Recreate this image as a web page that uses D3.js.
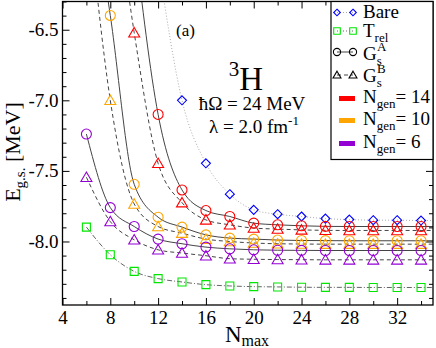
<!DOCTYPE html>
<html>
<head>
<meta charset="utf-8">
<script src="https://cdn.jsdelivr.net/npm/d3@7"></script>
<style>
  body { margin: 0; background: #fff; }
  svg text { font-family: "Liberation Serif", "DejaVu Serif", "Times New Roman", Times, serif; fill: #000; }
</style>
</head>
<body>
<div id="chart"></div>
<script>
// 3H ground state energy vs Nmax, panel (a)
const nmax = [6, 8, 10, 12, 14, 16, 18, 20, 22, 24, 26, 28, 30, 32, 34];

// values (points above the frame are estimated from where the lines leave it)
const bare = [null, null, null, -6.02, -7.00, -7.446, -7.665, -7.776, -7.807, -7.823, -7.838, -7.845, -7.849, -7.849, -7.852];
const trel = [-7.898, -8.094, -8.212, -8.263, -8.287, -8.306, -8.315, -8.320, -8.322, -8.324, -8.325, -8.325, -8.326, -8.326, -8.326];
const gA14 = [null, null, -5.85, -7.10, -7.635, -7.781, -7.823, -7.870, -7.882, -7.889, -7.893, -7.894, -7.894, -7.894, -7.894];
const gB14 = [null, -5.27, -6.521, -7.446, -7.725, -7.847, -7.882, -7.905, -7.912, -7.918, -7.921, -7.922, -7.922, -7.922, -7.922];
const gA10 = [-5.30, -6.399, -7.595, -7.828, -7.898, -7.953, -7.976, -7.983, -7.990, -7.993, -7.994, -7.995, -7.995, -7.995, -7.995];
const gB10 = [-5.52, -7.00, -7.734, -7.894, -7.941, -7.983, -8.000, -8.011, -8.016, -8.018, -8.019, -8.019, -8.019, -8.019, -8.019];
const gA6 = [-7.239, -7.760, -7.894, -7.983, -8.016, -8.040, -8.052, -8.059, -8.062, -8.063, -8.064, -8.064, -8.064, -8.064, -8.064];
const gB6 = [-7.545, -7.859, -7.988, -8.059, -8.082, -8.101, -8.122, -8.126, -8.128, -8.129, -8.130, -8.130, -8.130, -8.130, -8.130];

const xTicks = [4, 8, 12, 16, 20, 24, 28, 32];
const yTicks = [-6.5, -7.0, -7.5, -8.0];

const WD = 436, HT = 348;
const box = { left: 62.5, right: 433, top: 1.5, bottom: 305 };
const serif = "'Liberation Serif', 'DejaVu Serif', 'Times New Roman', serif";

const x = d3.scaleLinear().domain([4, 35]).range([box.left, box.right]);
const y = d3.scaleLinear().domain([-8.45, -6.3]).range([box.bottom, box.top]);

const svg = d3.select("#chart").append("svg")
    .attr("width", WD)
    .attr("height", HT)
    .attr("font-family", serif);

svg.append("defs").append("clipPath").attr("id", "plotclip")
  .append("rect")
    .attr("x", box.left).attr("y", box.top)
    .attr("width", box.right - box.left).attr("height", box.bottom - box.top);

// marker shapes
function markPath(shape, s) {
  if (shape === "diamond") return `M0,${-s}L${s},0L0,${s}L${-s},0Z`;
  if (shape === "square") return `M${-s},${-s}H${s}V${s}H${-s}Z`;
  if (shape === "triangle") return `M0,${-s * 1.05}L${s * 1.1},${s * 0.85}L${-s * 1.1},${s * 0.85}Z`;
  return d3.arc()({ innerRadius: 0, outerRadius: s, startAngle: 0, endAngle: 2 * Math.PI });
}

const lineStyles = {
  bare: { stroke: "#aaa", dash: "1,2" },
  trel: { stroke: "#666", dash: "5,2,1,2" },
  A: { stroke: "#444", dash: null },
  B: { stroke: "#444", dash: "4,3" }
};

const series = [
  { vals: bare, color: "#0000ff", shape: "diamond", size: 4.5, line: "bare" },
  { vals: trel, color: "#00e600", shape: "square", size: 4, line: "trel" },
  { vals: gA14, color: "#ff0000", shape: "circle", size: 5, line: "A" },
  { vals: gB14, color: "#ff0000", shape: "triangle", size: 5, line: "B" },
  { vals: gA10, color: "#ffa500", shape: "circle", size: 5, line: "A" },
  { vals: gB10, color: "#ffa500", shape: "triangle", size: 5, line: "B" },
  { vals: gA6, color: "#9400d3", shape: "circle", size: 5, line: "A" },
  { vals: gB6, color: "#9400d3", shape: "triangle", size: 5, line: "B" }
];

// axes, ticks pointing inward on all four sides
function ticks(axis, vals, size, g) {
  g.call(axis.tickValues(vals).tickSize(size).tickSizeOuter(0));
  g.attr("font-family", serif);
  g.select(".domain").remove();
  g.selectAll(".tick line").attr("stroke", "#000");
}
const xMinor = d3.range(6, 35, 2).filter(v => v % 4 !== 0);
const yMinor = d3.range(-8.4, -6.25, 0.1).map(v => +v.toFixed(1)).filter(v => yTicks.indexOf(v) < 0);

const gx = svg.append("g").attr("transform", `translate(0,${box.bottom})`);
ticks(d3.axisBottom(x).tickFormat(d3.format("d")).tickPadding(5), xTicks, -7, gx);
gx.selectAll("text").attr("font-size", "19px").attr("dy", "0.75em");
ticks(d3.axisBottom(x).tickFormat(""), xMinor, -4, svg.append("g").attr("transform", `translate(0,${box.bottom})`));
ticks(d3.axisTop(x).tickFormat(""), xTicks, -7, svg.append("g").attr("transform", `translate(0,${box.top})`));
ticks(d3.axisTop(x).tickFormat(""), xMinor, -4, svg.append("g").attr("transform", `translate(0,${box.top})`));

const gy = svg.append("g").attr("transform", `translate(${box.left},0)`);
ticks(d3.axisLeft(y).tickFormat(d3.format(".1f")).tickPadding(4), yTicks, -7, gy);
gy.selectAll("text").attr("font-size", "19px").text(d => d3.format(".1f")(d).replace("−", "-"));
ticks(d3.axisLeft(y).tickFormat(""), yMinor, -4, svg.append("g").attr("transform", `translate(${box.left},0)`));
ticks(d3.axisRight(y).tickFormat(""), yTicks, -7, svg.append("g").attr("transform", `translate(${box.right},0)`));
ticks(d3.axisRight(y).tickFormat(""), yMinor, -4, svg.append("g").attr("transform", `translate(${box.right},0)`));

// curves and markers
const plot = svg.append("g").attr("clip-path", "url(#plotclip)");
const line = d3.line()
    .defined(d => d[1] !== null)
    .x(d => x(d[0]))
    .y(d => y(d[1]))
    .curve(d3.curveMonotoneX);

series.forEach(s => {
  let pts = nmax.map((n, i) => [n, s.vals[i]]).filter(d => d[1] !== null);
  // the fitted curves run on to the right frame edge
  pts.push([x.domain()[1], pts[pts.length - 1][1]]);
  const st = lineStyles[s.line];
  plot.append("path")
      .attr("d", line(pts))
      .attr("fill", "none")
      .attr("stroke", st.stroke)
      .attr("stroke-width", 1)
      .attr("stroke-dasharray", st.dash);
});

series.forEach(s => {
  plot.selectAll(null)
    .data(nmax.map((n, i) => [n, s.vals[i]]).filter(d => d[1] !== null))
    .enter().append("path")
      .attr("transform", d => `translate(${x(d[0])},${y(d[1])})`)
      .attr("d", markPath(s.shape, s.size))
      .attr("fill", "none")
      .attr("stroke", s.color)
      .attr("stroke-width", 1.1);
});

// frame
svg.append("rect")
    .attr("x", box.left).attr("y", box.top)
    .attr("width", box.right - box.left).attr("height", box.bottom - box.top)
    .attr("fill", "none").attr("stroke", "#000").attr("stroke-width", 1.3);

// annotations
svg.append("text").attr("x", 176).attr("y", 36).attr("font-size", "17px").text("(a)");

const nuc = svg.append("text").attr("x", 246).attr("y", 90).attr("text-anchor", "middle").attr("font-size", "33px");
nuc.append("tspan").attr("font-size", "21px").attr("dy", "-14").text("3");
nuc.append("tspan").attr("dy", "14").text("H");

svg.append("text").attr("x", 252).attr("y", 110).attr("text-anchor", "middle").attr("font-size", "19px")
    .text("ħΩ = 24 MeV");
const lam = svg.append("text").attr("x", 254).attr("y", 133).attr("text-anchor", "middle").attr("font-size", "19px");
lam.append("tspan").text("λ = 2.0 fm");
lam.append("tspan").attr("font-size", "13px").attr("dy", "-8").text("-1");

// axis titles
const xl = svg.append("text").attr("x", 247).attr("y", 342).attr("text-anchor", "middle").attr("font-size", "23px");
xl.append("tspan").text("N");
xl.append("tspan").attr("font-size", "16px").attr("dy", "4").text("max");

const yl = svg.append("text").attr("transform", "translate(20,152) rotate(-90)").attr("text-anchor", "middle").attr("font-size", "22px");
yl.append("tspan").text("E");
yl.append("tspan").attr("font-size", "15px").attr("dy", "5").text("g.s.");
yl.append("tspan").attr("dy", "-5").text(" [MeV]");

// legend
const lg = svg.append("g");
lg.append("rect")
    .attr("x", 331).attr("y", box.top)
    .attr("width", box.right - 331).attr("height", 158)
    .attr("fill", "#fff").attr("stroke", "#000").attr("stroke-width", 1.2);

const legendSym = [
  { label: ["Bare"], color: "#0000ff", shape: "diamond", size: 3.3, line: "bare", y: 12.5 },
  { label: ["T", "rel", ""], color: "#00e600", shape: "square", size: 3.3, line: "trel", y: 31 },
  { label: ["G", "s", "A"], color: "#000", shape: "circle", size: 3.6, line: "A", y: 52 },
  { label: ["G", "s", "B"], color: "#000", shape: "triangle", size: 3.6, line: "B", y: 75 }
];
const legendBase = [18, 37, 60, 82];

legendSym.forEach((d, i) => {
  const st = lineStyles[d.line];
  lg.append("line")
      .attr("x1", 337).attr("x2", 353).attr("y1", d.y).attr("y2", d.y)
      .attr("stroke", d.line === "bare" ? "#aaa" : st.stroke)
      .attr("stroke-dasharray", d.line === "trel" ? "1,2" : st.dash);
  [337, 353].forEach(px => {
    lg.append("path")
        .attr("transform", `translate(${px},${d.y})`)
        .attr("d", markPath(d.shape, d.size))
        .attr("fill", "none").attr("stroke", d.color).attr("stroke-width", 1.1);
  });
  const t = lg.append("text").attr("x", 363).attr("y", legendBase[i]).attr("font-size", "19px");
  t.append("tspan").text(d.label[0]);
  if (d.label.length > 1) {
    t.append("tspan").attr("font-size", "13px").attr("dy", "5").text(d.label[1]);
    if (d.label[2]) {
      t.append("tspan").attr("font-size", "13px").attr("x", 377).attr("dy", "-14").text(d.label[2]);
    }
  }
});

const ngen = [14, 10, 6];
const ngenColors = ["#ff0000", "#ffa500", "#9400d3"];
const ngenBase = [103, 125, 148];
ngen.forEach((n, i) => {
  lg.append("rect")
      .attr("x", 339).attr("y", ngenBase[i] - 7).attr("width", 16).attr("height", 5)
      .attr("fill", ngenColors[i]);
  const t = lg.append("text").attr("x", 363).attr("y", ngenBase[i]).attr("font-size", "19px");
  t.append("tspan").text("N");
  t.append("tspan").attr("font-size", "13px").attr("dy", "5").text("gen");
  t.append("tspan").attr("dy", "-5").text("= " + n);
});
</script>
</body>
</html>
